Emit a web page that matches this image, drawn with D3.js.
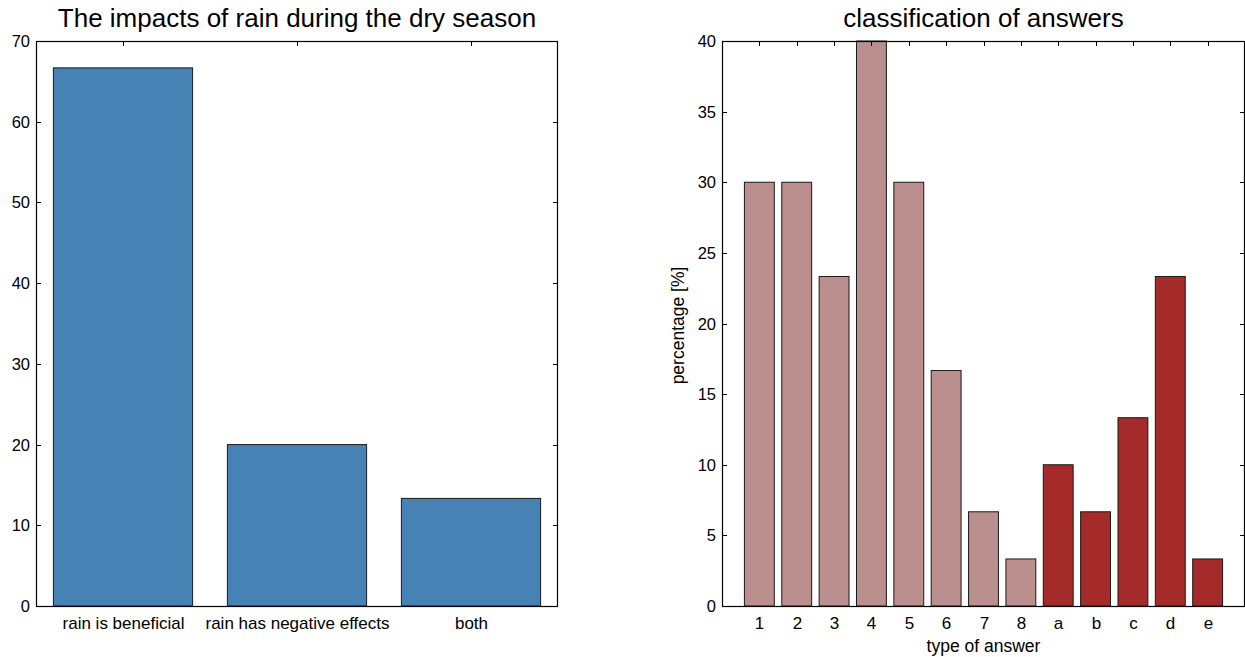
<!DOCTYPE html>
<html>
<head>
<meta charset="utf-8">
<script src="https://cdn.jsdelivr.net/npm/d3@7"></script>
<style>
  html, body { margin: 0; padding: 0; background: #fff; }
  svg { display: block; font-family: "Liberation Sans", Arial, Helvetica, sans-serif; }
</style>
</head>
<body>
<svg id="chart" width="1245" height="657"></svg>
<script>
// Left panel: impacts of rain
const impactCategories = ["rain is beneficial", "rain has negative effects", "both"];
const impactValues = [66.67, 20, 13.33];
const impactTicks = [0, 10, 20, 30, 40, 50, 60, 70];

// Right panel: classification of answers
const answerCategories = ["1", "2", "3", "4", "5", "6", "7", "8", "a", "b", "c", "d", "e"];
const answerValues = [30, 30, 23.33, 40, 30, 16.67, 6.67, 3.33, 10, 6.67, 13.33, 23.33, 3.33];
const answerGroups = ["num", "num", "num", "num", "num", "num", "num", "num", "let", "let", "let", "let", "let"];
const answerTicks = [0, 5, 10, 15, 20, 25, 30, 35, 40];

const svg = d3.select("#chart");
const tickLen = 5;
const numFont = 16.5;
const catFont = 17;
const labelFont = 17.5;
const titleFont = 26;

function panel(opts) {
  const { left, right, top, bottom, cats, vals, yMax, yTicks, fill, title, xLabel, yLabel, xPad } = opts;
  const g = svg.append("g");
  const x = d3.scaleLinear().domain([1 - xPad, cats.length + xPad]).range([left, right]);
  const y = d3.scaleLinear().domain([0, yMax]).range([bottom, top]);
  const step = x(2) - x(1);
  const bw = step * 0.8;

  // bars
  g.selectAll("rect.bar").data(vals).enter().append("rect")
    .attr("class", "bar")
    .attr("x", (d, i) => x(i + 1) - bw / 2)
    .attr("width", bw)
    .attr("y", d => y(d))
    .attr("height", d => y(0) - y(d))
    .attr("fill", (d, i) => fill(i))
    .attr("stroke", "#1a1a1a")
    .attr("stroke-width", 1);

  // y axis ticks on left and right, pointing inward
  yTicks.forEach(t => {
    const yy = Math.round(y(t)) + 0.5;
    g.append("line").attr("x1", left).attr("x2", left + tickLen).attr("y1", yy).attr("y2", yy)
      .attr("stroke", "#000");
    g.append("line").attr("x1", right - tickLen).attr("x2", right).attr("y1", yy).attr("y2", yy)
      .attr("stroke", "#000");
    g.append("text").attr("x", left - 6).attr("y", yy).attr("dy", "0.36em")
      .attr("text-anchor", "end").attr("font-size", numFont).attr("fill", "#000").text(t);
  });

  // x ticks at top (inward) and category labels below
  cats.forEach((c, i) => {
    const xx = Math.round(x(i + 1)) + 0.5;
    g.append("line").attr("x1", xx).attr("x2", xx).attr("y1", top).attr("y2", top + tickLen)
      .attr("stroke", "#000");
    g.append("text").attr("x", xx).attr("y", bottom + 23)
      .attr("text-anchor", "middle").attr("font-size", catFont).attr("fill", "#000").text(c);
  });

  // frame
  g.append("rect").attr("x", left + 0.5).attr("y", top + 0.5)
    .attr("width", right - left - 1).attr("height", bottom - top)
    .attr("fill", "none").attr("stroke", "#000").attr("stroke-width", 1.2);

  // title
  g.append("text").attr("x", (left + right) / 2).attr("y", 27)
    .attr("text-anchor", "middle").attr("font-size", titleFont).attr("fill", "#000").text(title);

  if (xLabel) {
    g.append("text").attr("x", (left + right) / 2).attr("y", bottom + 45.5)
      .attr("text-anchor", "middle").attr("font-size", labelFont).attr("fill", "#000").text(xLabel);
  }
  if (yLabel) {
    const cy = (top + bottom) / 2 + 2;
    g.append("text").attr("transform", `translate(${left - 38},${cy}) rotate(-90)`)
      .attr("text-anchor", "middle").attr("font-size", labelFont).attr("fill", "#000").text(yLabel);
  }
}

panel({
  left: 36, right: 558, top: 41, bottom: 606,
  cats: impactCategories, vals: impactValues, yMax: 70, yTicks: impactTicks,
  fill: () => "#4682b4",
  title: "The impacts of rain during the dry season",
  xPad: 0.5
});

panel({
  left: 722, right: 1245, top: 41, bottom: 606,
  cats: answerCategories, vals: answerValues, yMax: 40, yTicks: answerTicks,
  fill: i => answerGroups[i] === "num" ? "#bc8f8f" : "#a52a2a",
  title: "classification of answers",
  xLabel: "type of answer",
  yLabel: "percentage [%]",
  xPad: 1
});
</script>
</body>
</html>
